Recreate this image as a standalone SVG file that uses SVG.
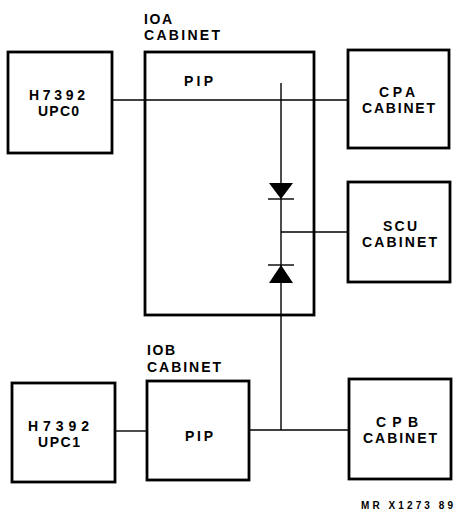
<svg xmlns="http://www.w3.org/2000/svg" width="454" height="511" viewBox="0 0 454 511">
<style>
.box{fill:none;stroke:#000;stroke-width:2.8}
.ln{fill:none;stroke:#000;stroke-width:1.4}
.t{font-family:"Liberation Sans",Arial,sans-serif;font-size:14px;font-weight:bold;fill:#000}
.s{font-family:"Liberation Sans",Arial,sans-serif;font-size:10px;font-weight:bold;fill:#000}
</style>
<rect width="454" height="511" fill="#fff"/>
<g id="connectors">
<line class="ln" x1="112" y1="100" x2="348" y2="100"/>
<line class="ln" x1="281" y1="83" x2="281" y2="430"/>
<line class="ln" x1="281" y1="232" x2="348" y2="232"/>
<line class="ln" x1="115" y1="431" x2="147" y2="431"/>
<line class="ln" x1="249" y1="430" x2="349" y2="430"/>
<g id="diode1">
<polygon points="269,183 293,183 281,199" fill="#000"/>
<line class="ln" x1="268" y1="199" x2="294" y2="199"/>
</g>
<g id="diode2">
<polygon points="269,283 293,283 281,265" fill="#000"/>
<line class="ln" x1="268" y1="265" x2="294" y2="265"/>
</g>
</g>
<g id="upc0">
<rect class="box" x="8" y="52" width="104" height="101"/>
<text class="t" x="57" y="100" text-anchor="middle" textLength="56" lengthAdjust="spacing">H7392</text>
<text class="t" x="58.5" y="116" text-anchor="middle" textLength="41" lengthAdjust="spacing">UPC0</text>
</g>
<g id="ioa">
<rect class="box" x="145" y="52" width="169" height="263"/>
<text class="t" x="144" y="23.5" textLength="28" lengthAdjust="spacing">IOA</text>
<text class="t" x="144" y="39.5" textLength="76" lengthAdjust="spacing">CABINET</text>
<text class="t" x="184" y="86" textLength="29" lengthAdjust="spacing">PIP</text>
</g>
<g id="cpa">
<rect class="box" x="348" y="50" width="101" height="98"/>
<text class="t" x="397" y="97" text-anchor="middle" textLength="36" lengthAdjust="spacing">CPA</text>
<text class="t" x="398.5" y="113" text-anchor="middle" textLength="73" lengthAdjust="spacing">CABINET</text>
</g>
<g id="scu">
<rect class="box" x="348" y="182" width="102" height="100"/>
<text class="t" x="400" y="231" text-anchor="middle" textLength="34" lengthAdjust="spacing">SCU</text>
<text class="t" x="399.5" y="247" text-anchor="middle" textLength="75" lengthAdjust="spacing">CABINET</text>
</g>
<g id="upc1">
<rect class="box" x="12" y="383" width="103" height="99"/>
<text class="t" x="58.5" y="431" text-anchor="middle" textLength="61" lengthAdjust="spacing">H7392</text>
<text class="t" x="59" y="447" text-anchor="middle" textLength="42" lengthAdjust="spacing">UPC1</text>
</g>
<g id="iob">
<rect class="box" x="147" y="381" width="102" height="99"/>
<text class="t" x="147" y="355" textLength="28" lengthAdjust="spacing">IOB</text>
<text class="t" x="147" y="372" textLength="74" lengthAdjust="spacing">CABINET</text>
<text class="t" x="185" y="441" textLength="28" lengthAdjust="spacing">PIP</text>
</g>
<g id="cpb">
<rect class="box" x="349" y="379" width="102" height="100"/>
<text class="t" x="397" y="427" text-anchor="middle" textLength="42" lengthAdjust="spacing">CPB</text>
<text class="t" x="400" y="443" text-anchor="middle" textLength="74" lengthAdjust="spacing">CABINET</text>
</g>
<text class="s" x="361" y="509" textLength="92" lengthAdjust="spacing">MR X1273 89</text>
</svg>
